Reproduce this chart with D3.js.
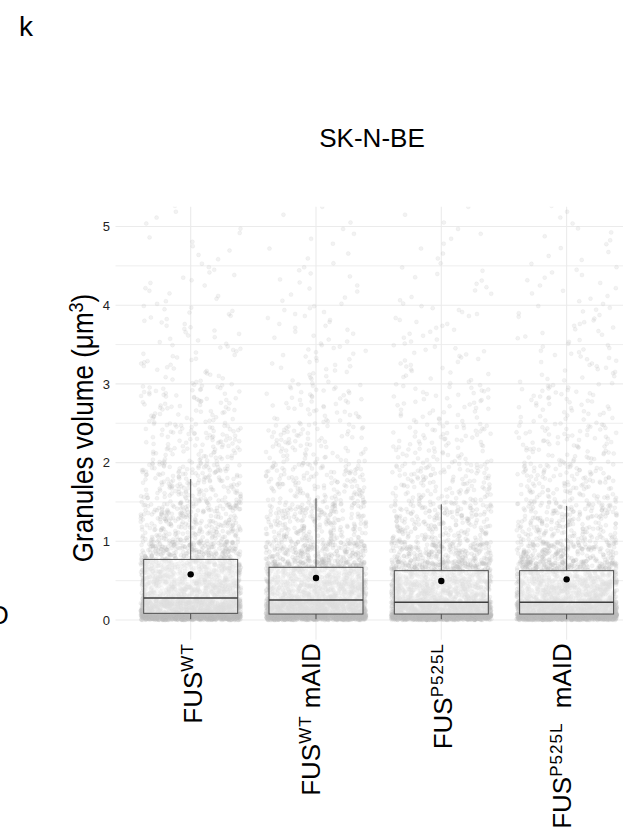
<!DOCTYPE html>
<html><head><meta charset="utf-8">
<script src="https://cdn.jsdelivr.net/npm/d3@7"></script>
<style>
body{margin:0;background:#fff}
text{font-family:"Liberation Sans",Arial,Helvetica,sans-serif}
</style>
</head><body>
<svg id="chart" width="623" height="831"></svg>
<script>
// ---------------- data ----------------
const categories = ["FUS WT", "FUS WT mAID", "FUS P525L", "FUS P525L mAID"];
const labelBase = ["FUS", "FUS", "FUS", "FUS"];
const labelSup = ["WT", "WT", "P525L", "P525L"];
const labelSuffix = ["", " mAID", "", "  mAID"];

const q1 = [0.085, 0.076, 0.076, 0.076];
const median = [0.28, 0.254, 0.225, 0.225];
const q3 = [0.77, 0.67, 0.627, 0.627];
const whiskerLow = [0.01, 0.01, 0.01, 0.01];
const whiskerHigh = [1.79, 1.546, 1.47, 1.45];
const means = [0.58, 0.534, 0.496, 0.517];

// granule counts per volume bin (read from point density), one row per category
const binEdges = [0, 0.08, 0.25, 0.5, 0.75, 1, 1.5, 2, 2.5, 3, 3.5, 4, 4.5, 5, 5.3];
const countsWT = [800, 750, 520, 400, 240, 260, 170, 100, 70, 32, 24, 15, 9, 4];
const countsWTmAID = [850, 800, 520, 380, 200, 220, 135, 80, 50, 28, 20, 13, 8, 3];
const countsP525L = [880, 850, 530, 350, 190, 200, 120, 70, 45, 26, 20, 12, 8, 3];
const countsP525LmAID = [880, 850, 530, 350, 190, 200, 120, 72, 48, 28, 22, 15, 10, 4];
const binCounts = [countsWT, countsWTmAID, countsP525L, countsP525LmAID];

const yTicks = [0, 1, 2, 3, 4, 5];
const yMinorTicks = [0.5, 1.5, 2.5, 3.5, 4.5];

const title = "SK-N-BE";
const panelTag = "k";
const yTitle = "Granules volume (\u03bcm";
const yTitleSup = "3";

// ---------------- layout ----------------
const svg = d3.select("#chart");
const P = {left: 115.5, right: 641.8, top: 206.8, bottom: 639.7};

const x = d3.scalePoint().domain(categories).range([P.left, P.right]).padding(0.6);
const y = d3.scaleLinear().domain([-0.25, 5.25]).range([P.bottom, P.top]);
const step = x.step();

svg.append("defs").append("clipPath").attr("id", "panel")
  .append("rect").attr("x", P.left).attr("y", P.top)
  .attr("width", P.right - P.left).attr("height", P.bottom - P.top);

// gridlines
const grid = svg.append("g");
grid.selectAll("line.minor").data(yMinorTicks).join("line")
  .attr("x1", P.left).attr("x2", P.right)
  .attr("y1", d => y(d)).attr("y2", d => y(d))
  .attr("stroke", "#ececec").attr("stroke-width", 0.9);
grid.selectAll("line.major").data(yTicks).join("line")
  .attr("x1", P.left).attr("x2", P.right)
  .attr("y1", d => y(d)).attr("y2", d => y(d))
  .attr("stroke", "#ebebeb").attr("stroke-width", 1.1);
grid.selectAll("line.vert").data(categories).join("line")
  .attr("x1", d => x(d)).attr("x2", d => x(d))
  .attr("y1", P.top).attr("y2", P.bottom)
  .attr("stroke", "#ebebeb").attr("stroke-width", 1.1);

// jittered points
const rng = d3.randomLcg(0.4217);
const pts = [];
categories.forEach((c, ci) => {
  binCounts[ci].forEach((n, bi) => {
    const lo = binEdges[bi], hi = binEdges[bi + 1];
    for (let i = 0; i < n; i++) {
      const v = lo + (hi - lo) * (i + 0.5) / n;
      pts.push({c, v, j: (rng() * 2 - 1) * 0.4});
    }
  });
});
svg.append("g").attr("clip-path", "url(#panel)")
  .selectAll("circle").data(pts).join("circle")
  .attr("cx", d => x(d.c) + d.j * step)
  .attr("cy", d => y(d.v))
  .attr("r", 2)
  .attr("fill", "#bebebe").attr("fill-opacity", 0.2)
  .attr("stroke", "#bebebe").attr("stroke-opacity", 0.2).attr("stroke-width", 0.6);

// boxplots
const bw = step * 0.75;
const boxes = svg.append("g");
categories.forEach((c, i) => {
  const cx = x(c);
  boxes.append("line").attr("x1", cx).attr("x2", cx)
    .attr("y1", y(q3[i])).attr("y2", y(whiskerHigh[i]))
    .attr("stroke", "#4d4d4d").attr("stroke-width", 1);
  boxes.append("line").attr("x1", cx).attr("x2", cx)
    .attr("y1", y(q1[i])).attr("y2", y(whiskerLow[i]))
    .attr("stroke", "#4d4d4d").attr("stroke-width", 1);
  boxes.append("rect").attr("x", cx - bw / 2).attr("y", y(q3[i]))
    .attr("width", bw).attr("height", y(q1[i]) - y(q3[i]))
    .attr("fill", "#ffffff").attr("fill-opacity", 0.5)
    .attr("stroke", "#4d4d4d").attr("stroke-width", 1);
  boxes.append("line").attr("x1", cx - bw / 2).attr("x2", cx + bw / 2)
    .attr("y1", y(median[i])).attr("y2", y(median[i]))
    .attr("stroke", "#3d3d3d").attr("stroke-width", 1.5);
  boxes.append("circle").attr("cx", cx).attr("cy", y(means[i])).attr("r", 3.2)
    .attr("fill", "#000");
});

// y axis labels
const yAxis = d3.axisLeft(y).tickValues(yTicks).tickSize(0).tickPadding(5.5).tickFormat(d3.format("d"));
const gy = svg.append("g").attr("transform", `translate(${P.left},0)`).call(yAxis);
gy.select(".domain").remove();
gy.selectAll("text").attr("font-size", 13).attr("fill", "#222")
  .style("font-family", '"Liberation Sans",Arial,sans-serif');

// x labels (rotated)
const xl = svg.append("g");
categories.forEach((c, i) => {
  const shift = labelSuffix[i] ? -6.5 : 0;
  const t = xl.append("text")
    .attr("transform", `translate(${x(c) + 11 + shift},${P.bottom + 3.5}) rotate(-90)`)
    .attr("text-anchor", "end").attr("font-size", 26).attr("fill", "#000")
    .style("white-space", "pre");
  t.append("tspan").text(labelBase[i]);
  t.append("tspan").attr("font-size", 17).attr("dy", -9).attr("letter-spacing", 1).text(labelSup[i]);
  if (labelSuffix[i]) t.append("tspan").attr("dy", 9).text(labelSuffix[i]);
});

// y title
const yt = svg.append("text")
  .attr("transform", `translate(93,428) rotate(-90) scale(0.9,1)`)
  .attr("text-anchor", "middle").attr("font-size", 29).attr("fill", "#000");
yt.append("tspan").text(yTitle);
yt.append("tspan").attr("font-size", 20).attr("dy", -10).text(yTitleSup);
yt.append("tspan").attr("dy", 10).text(")");

// title
svg.append("text").attr("x", 372).attr("y", 147).attr("text-anchor", "middle")
  .attr("font-size", 26).attr("fill", "#000").text(title);

// panel tag and neighbour letter (partly outside the frame, as in the reference)
svg.append("text").attr("x", 19).attr("y", 36).attr("font-size", 28).attr("fill", "#000").text(panelTag);
svg.append("text").attr("x", -10).attr("y", 624).attr("font-size", 26).attr("fill", "#000").text("D");
</script>
</body></html>
